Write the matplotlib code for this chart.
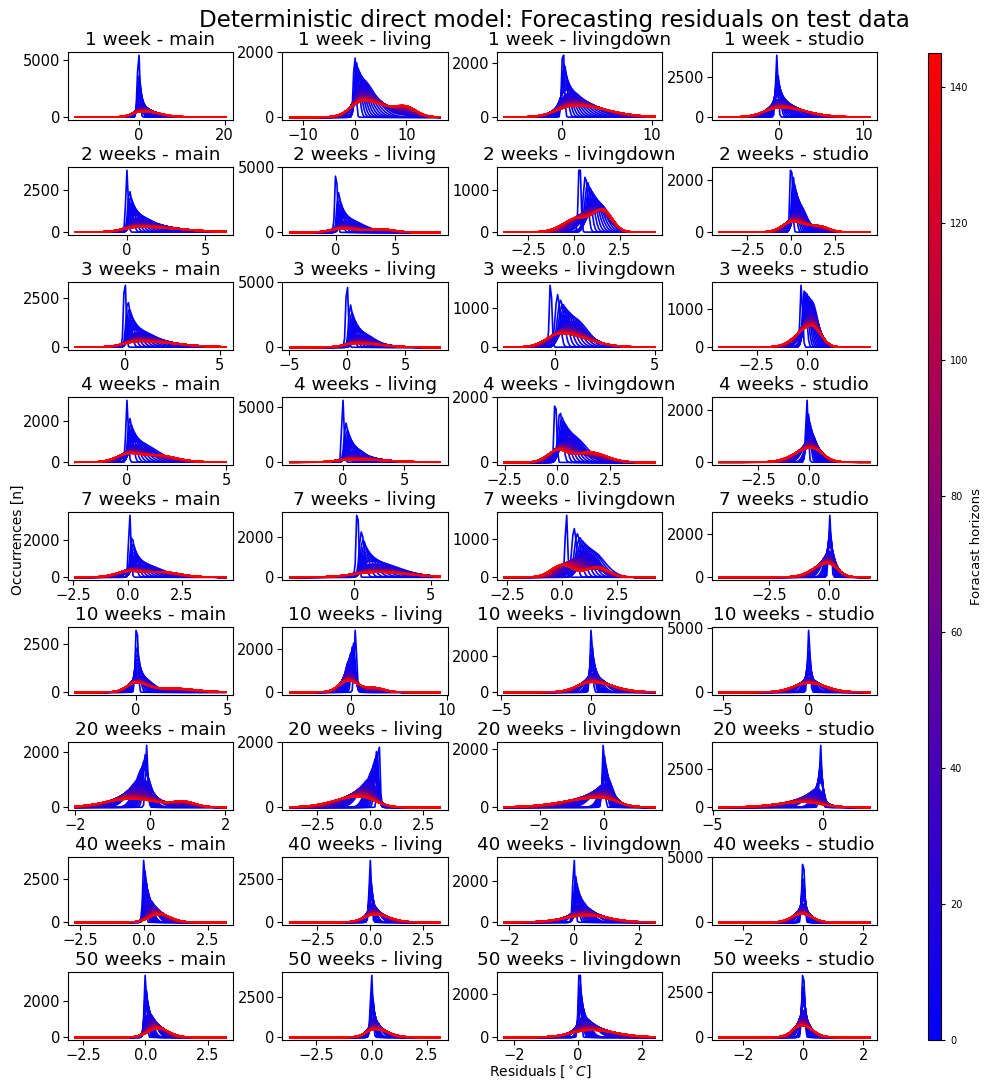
import numpy as np
import matplotlib
matplotlib.use("Agg")
import matplotlib.pyplot as plt
from matplotlib.colors import LinearSegmentedColormap, Normalize
from matplotlib.cm import ScalarMappable

# ---- layout of the grid -------------------------------------------------
periods = ["1 week", "2 weeks", "3 weeks", "4 weeks", "7 weeks",
           "10 weeks", "20 weeks", "40 weeks", "50 weeks"]
rooms = ["main", "living", "livingdown", "studio"]
n_horizons = 145

# ---- residual ranges per panel (row-major: period x room) ---------------
x_min = [-14.7, -12.5, -6.4, -7.0,
         -3.3, -3.9, -3.8, -4.1,
         -2.6, -4.9, -2.5, -4.35,
         -2.6, -4.3, -2.5, -4.4,
         -2.4, -4.2, -2.6, -4.6,
         -3.3, -6.3, -4.8, -5.2,
         -2.0, -3.8, -3.1, -4.7,
         -2.7, -3.8, -2.15, -2.8,
         -2.8, -3.7, -2.3, -2.8]
x_max = [20.2, 16.5, 10.3, 10.7,
         6.3, 8.8, 4.4, 4.45,
         5.3, 8.0, 5.0, 3.05,
         4.95, 7.9, 4.6, 2.95,
         4.5, 5.6, 4.2, 1.7,
         4.9, 9.3, 3.5, 3.5,
         2.0, 3.3, 1.6, 2.1,
         3.2, 3.3, 2.5, 2.2,
         3.2, 3.1, 2.4, 2.2]

# ---- tick labels per panel ----------------------------------------------
x_ticks = [[0, 20], [-10, 0, 10], [0, 10], [0, 10],
           [0, 5], [0, 5], [-2.5, 0, 2.5], [-2.5, 0, 2.5],
           [0, 5], [-5, 0, 5], [0, 5], [-2.5, 0],
           [0, 5], [0, 5], [-2.5, 0, 2.5], [-2.5, 0],
           [-2.5, 0, 2.5], [0, 5], [-2.5, 0, 2.5], [-2.5, 0],
           [0, 5], [0, 10], [-5, 0], [-5, 0],
           [-2, 0, 2], [-2.5, 0, 2.5], [-2, 0], [-5, 0],
           [-2.5, 0, 2.5], [-2.5, 0, 2.5], [-2, 0, 2], [-2, 0, 2],
           [-2.5, 0, 2.5], [-2.5, 0, 2.5], [-2, 0, 2], [-2, 0, 2]]
y_tick_top = [5000, 2000, 2000, 2500,
              2500, 5000, 1000, 2000,
              2500, 5000, 1000, 1000,
              2000, 5000, 2000, 2000,
              2000, 2000, 1000, 2000,
              2500, 2000, 2000, 5000,
              2000, 2000, 2000, 2500,
              2500, 2500, 2000, 5000,
              2000, 2500, 2000, 2500]

# ---- horizon 0: sharp peak (height, location) ---------------------------
peak_first = [5800, 1980, 2700, 3900,
              3650, 4900, 1800, 2850,
              3650, 5200, 1750, 1650,
              3000, 5700, 2050, 2400,
              3400, 3600, 1700, 2900,
              3750, 2900, 3600, 4900,
              2250, 2150, 2300, 4000,
              3850, 3600, 3150, 5200,
              3500, 3900, 3500, 4000]
loc_first = [0.0, 0.0, 0.1, -0.2,
             0.0, 0.0, 0.3, 0.0,
             0.0, 0.0, -0.2, -0.3,
             0.0, 0.0, -0.1, -0.1,
             0.1, 0.2, 0.2, 0.05,
             0.05, 0.5, 0.0, 0.0,
             -0.1, 0.4, 0.0, -0.1,
             0.0, 0.0, 0.0, 0.0,
             0.0, 0.0, 0.05, 0.0]

# ---- short horizons: bulk of the blue curves ----------------------------
peak_mid = [1300, 1200, 1000, 1300,
            1000, 1100, 700, 1100,
            900, 1200, 750, 1200,
            1000, 1300, 850, 1100,
            800, 800, 700, 1400,
            900, 1400, 1200, 1300,
            1400, 1100, 1000, 1600,
            1700, 1300, 1100, 1700,
            1700, 1500, 1200, 1800]
loc_mid = [0.3, 1.0, 0.5, 0.0,
           0.5, 0.6, 1.3, 0.4,
           0.5, 0.9, 0.9, 0.2,
           0.4, 0.8, 0.6, 0.1,
           0.4, 1.0, 1.3, 0.05,
           0.1, -0.2, 0.1, 0.0,
           -0.2, 0.1, 0.1, -0.1,
           0.1, 0.05, 0.15, 0.0,
           0.05, 0.05, 0.1, 0.0]
left_mid = [0.6, 0.8, 0.8, 0.8,
            0.25, 0.25, 0.5, 0.25,
            0.25, 0.3, 0.5, 0.3,
            0.25, 0.4, 0.4, 0.25,
            0.2, 0.4, 0.4, 0.2,
            0.3, 0.4, 0.3, 0.3,
            0.2, 0.3, 0.2, 0.3,
            0.08, 0.12, 0.1, 0.1,
            0.08, 0.1, 0.1, 0.08]
right_mid = [1.6, 2.8, 2.0, 1.4,
             1.2, 1.5, 0.6, 0.45,
             1.1, 1.3, 0.7, 0.3,
             1.0, 1.0, 0.7, 0.3,
             1.0, 1.8, 0.6, 0.2,
             0.7, 0.6, 0.4, 0.35,
             0.2, 0.2, 0.2, 0.15,
             0.2, 0.2, 0.3, 0.12,
             0.2, 0.2, 0.22, 0.12]

# ---- longest horizon: final red curve -----------------------------------
peak_last = [500, 500, 420, 600,
             300, 280, 330, 400,
             300, 300, 350, 550,
             280, 250, 330, 550,
             280, 250, 320, 650,
             450, 520, 550, 700,
             300, 330, 330, 330,
             450, 450, 330, 650,
             480, 500, 330, 650]
loc_last = [0.8, 1.8, 1.5, 0.2,
            0.8, 0.5, 0.2, 0.1,
            0.8, 0.8, 0.3, 0.2,
            0.0, 0.8, 0.0, 0.1,
            0.0, 1.5, 0.0, -0.05,
            0.0, -0.2, 0.0, 0.0,
            -0.5, -0.5, -0.1, -0.9,
            0.6, 0.2, 0.4, -0.05,
            0.5, 0.15, 0.4, -0.05]
left_last = [2.2, 2.5, 2.0, 1.8,
             1.0, 1.0, 0.8, 0.6,
             0.8, 1.0, 0.7, 0.7,
             0.6, 1.2, 0.5, 0.8,
             0.6, 1.5, 0.5, 0.6,
             0.5, 1.0, 0.8, 0.9,
             0.7, 1.2, 1.1, 1.2,
             0.4, 0.5, 0.7, 0.35,
             0.4, 0.4, 0.6, 0.3]
right_last = [4.0, 4.5, 3.5, 3.0,
              2.5, 1.5, 0.8, 0.8,
              1.8, 2.0, 1.3, 0.45,
              0.5, 2.5, 0.4, 0.55,
              0.6, 2.0, 0.5, 0.4,
              0.6, 1.0, 1.2, 1.0,
              0.7, 0.7, 0.5, 0.8,
              0.45, 0.7, 0.7, 0.35,
              0.45, 0.6, 0.8, 0.35]
# secondary hump of the long-horizon residuals (height, location, width)
hump_height = [0, 250, 0, 0,
               0, 220, 480, 180,
               0, 0, 0, 0,
               350, 0, 320, 0,
               280, 0, 270, 0,
               200, 200, 0, 0,
               180, 0, 0, 0,
               0, 0, 0, 0,
               0, 0, 0, 0]
hump_loc = [0, 10.0, 0, 0,
            0, 4.0, 1.6, 1.7,
            0, 0, 0, 0,
            1.4, 0, 1.5, 0,
            1.6, 0, 1.6, 0,
            2.0, 2.5, 0, 0,
            0.9, 0, 0, 0,
            0, 0, 0, 0,
            0, 0, 0, 0]
hump_width = [1, 2.0, 1, 1,
              1, 1.0, 0.5, 0.5,
              1, 1, 1, 1,
              1.0, 1, 0.8, 1,
              0.8, 1, 0.5, 1,
              1.2, 1.0, 1, 1,
              0.3, 1, 1, 1,
              1, 1, 1, 1,
              1, 1, 1, 1]


def split_gauss(x, height, loc, wl, wr):
    w = np.where(x < loc, wl, wr)
    return height * np.exp(-0.5 * ((x - loc) / w) ** 2)


def horizon_curves(i, x):
    """Residual histograms for every forecast horizon of panel i."""
    span = x_max[i] - x_min[i]
    w0 = 0.008 * span
    h_mid = 10
    curves = []
    for h in range(n_horizons):
        if h <= h_mid:
            g = (h / h_mid) ** 0.5
            height = np.exp(np.log(peak_first[i]) * (1 - g) + np.log(peak_mid[i]) * g)
            loc = loc_first[i] * (1 - g) + loc_mid[i] * g
            wl = np.exp(np.log(w0) * (1 - g) + np.log(left_mid[i]) * g)
            wr = np.exp(np.log(w0) * (1 - g) + np.log(right_mid[i]) * g)
            hump = 0.0
        else:
            s = (h - h_mid) / (n_horizons - 1 - h_mid)
            g = s ** 0.35
            height = np.exp(np.log(peak_mid[i]) * (1 - g) + np.log(peak_last[i]) * g)
            loc = loc_mid[i] * (1 - g) + loc_last[i] * g
            wl = left_mid[i] * (1 - g) + left_last[i] * g
            wr = right_mid[i] * (1 - g) + right_last[i] * g
            hump = hump_height[i] * g
        y = split_gauss(x, height, loc, wl, wr)
        if hump > 0:
            y = y + hump * np.exp(-0.5 * ((x - hump_loc[i]) / hump_width[i]) ** 2)
        curves.append(y)
    return curves


cmap = LinearSegmentedColormap.from_list("blue_red", [(0, 0, 1), (1, 0, 0)])
norm = Normalize(vmin=0, vmax=n_horizons - 1)

fig = plt.figure(figsize=(9.84, 10.86), dpi=100)
gs = fig.add_gridspec(9, 4, left=0.069, right=0.891, top=0.952, bottom=0.042,
                      wspace=0.30, hspace=0.69)

for r, period in enumerate(periods):
    for c, room in enumerate(rooms):
        i = r * 4 + c
        ax = fig.add_subplot(gs[r, c])
        x = np.linspace(x_min[i], x_max[i], 100)
        for h, y in enumerate(horizon_curves(i, x)):
            ax.plot(x, y, color=cmap(norm(h)), lw=1.2)
        ax.set_title(f"{period} - {room}", fontsize=13.2, pad=5)
        ax.set_xticks(x_ticks[i])
        ax.set_yticks([0, y_tick_top[i]])
        ax.tick_params(labelsize=10.5, length=3.5, pad=2)

fig.suptitle("Deterministic direct model: Forecasting residuals on test data",
             x=0.563, y=0.992, va="top", fontsize=16.6)
fig.text(0.018, 0.503, "Occurrences [n]", rotation=90, ha="center", va="center",
         fontsize=10)
fig.text(0.549, 0.013, r"Residuals [$^\circ C$]", ha="center", va="center",
         fontsize=10)

cax = fig.add_axes([928 / 984, 0.042, 13 / 984, 0.909])
cb = fig.colorbar(ScalarMappable(norm=Normalize(0, n_horizons), cmap=cmap), cax=cax)
cb.set_ticks(np.arange(0, 141, 20))
cb.ax.tick_params(labelsize=7, length=3)
cb.set_label("Foracast horizons", fontsize=9.5, labelpad=1)

fig.savefig("out.png", dpi=100)
